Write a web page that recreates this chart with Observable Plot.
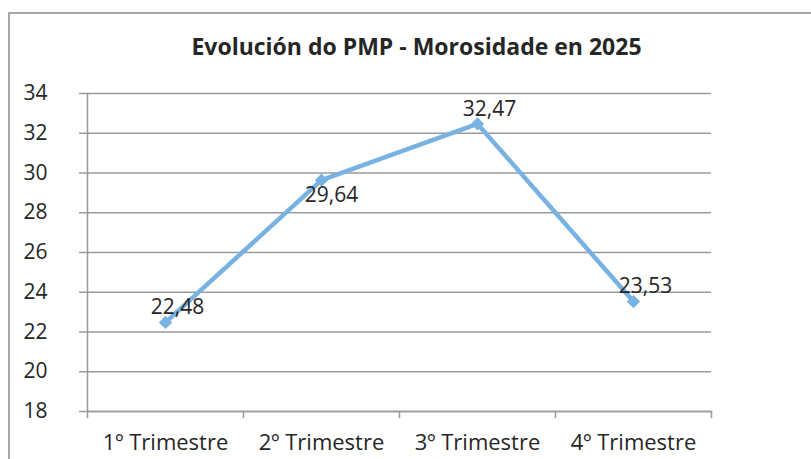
<!DOCTYPE html>
<html>
<head>
<meta charset="utf-8">
<script src="https://cdn.jsdelivr.net/npm/d3@7"></script>
<script src="https://cdn.jsdelivr.net/npm/@observablehq/plot@0.6"></script>
<style>
  html, body { margin: 0; padding: 0; background: #fff; }
  #wrap { position: relative; width: 811px; height: 459px; overflow: hidden; }
  #border { position: absolute; left: 8px; top: 12px; width: 900px; height: 600px;
            border-left: 2px solid #a6a6a6; border-top: 2px solid #a6a6a6; box-sizing: border-box; }
  #chart { position: absolute; left: 0; top: 0; }
</style>
</head>
<body>
<div id="wrap"><div id="border"></div><div id="chart"></div></div>
<script>
const title = "Evolución do PMP - Morosidade en 2025";
const categories = ["1º Trimestre", "2º Trimestre", "3º Trimestre", "4º Trimestre"];
const values = [22.48, 29.64, 32.47, 23.53];
const yTicks = [18, 20, 22, 24, 26, 28, 30, 32, 34];

const data = categories.map((c, i) => ({pos: i + 0.5, cat: c, value: values[i]}));
const fmt = v => v.toFixed(2).replace(".", ",");
const font = "'Open Sans', sans-serif";
const ink = "#262626";
const gridColor = "#9a9a9a";
const lineColor = "#78b2e2";

const chart = Plot.plot({
  width: 811,
  height: 459,
  marginLeft: 87,
  marginRight: 100,
  marginTop: 93,
  marginBottom: 48,
  style: {fontFamily: font, fontSize: "21px", color: ink, background: "transparent"},
  x: {domain: [0, categories.length]},
  y: {domain: [18, 34]},
  marks: [
    Plot.gridY(yTicks, {stroke: gridColor, strokeOpacity: 1, strokeWidth: 1.5}),
    Plot.axisY({ticks: yTicks, tickSize: 8, tickPadding: 32, stroke: gridColor, strokeOpacity: 1, strokeWidth: 1.5,
                fontSize: 21, fill: ink, label: null}),
    Plot.axisX({ticks: d3.range(categories.length + 1), tickFormat: () => "", tickSize: 7,
                stroke: gridColor, strokeOpacity: 1, strokeWidth: 1.5, label: null}),
    Plot.axisX({ticks: data.map(d => d.pos), tickFormat: (t) => categories[Math.floor(t)], tickSize: 0,
                tickPadding: 23, fontSize: 22, fill: ink, label: null}),
    Plot.frame({anchor: "left", stroke: gridColor, strokeWidth: 1.5}),
    Plot.frame({anchor: "bottom", stroke: gridColor, strokeWidth: 1.5}),
    Plot.line(data, {x: "pos", y: "value", stroke: lineColor, strokeWidth: 4.5}),
    Plot.dot(data, {x: "pos", y: "value", symbol: "diamond2", r: 6, fill: lineColor, stroke: "none"}),
    Plot.text(data.filter((d, i) => i !== 1), {x: "pos", y: "value", text: d => fmt(d.value),
              dx: 12, dy: -15, fontSize: 21, fill: ink, textAnchor: "middle"}),
    Plot.text(data.filter((d, i) => i === 1), {x: "pos", y: "value", text: d => fmt(d.value),
              dx: 10, dy: 15, fontSize: 21, fill: ink, textAnchor: "middle"}),
    Plot.text([title], {frameAnchor: "top", dy: -46, dx: 17, text: d => d, fontSize: 23, fontWeight: "bold",
              fill: ink, lineAnchor: "middle"})
  ]
});
document.getElementById("chart").appendChild(chart);
</script>
</body>
</html>
